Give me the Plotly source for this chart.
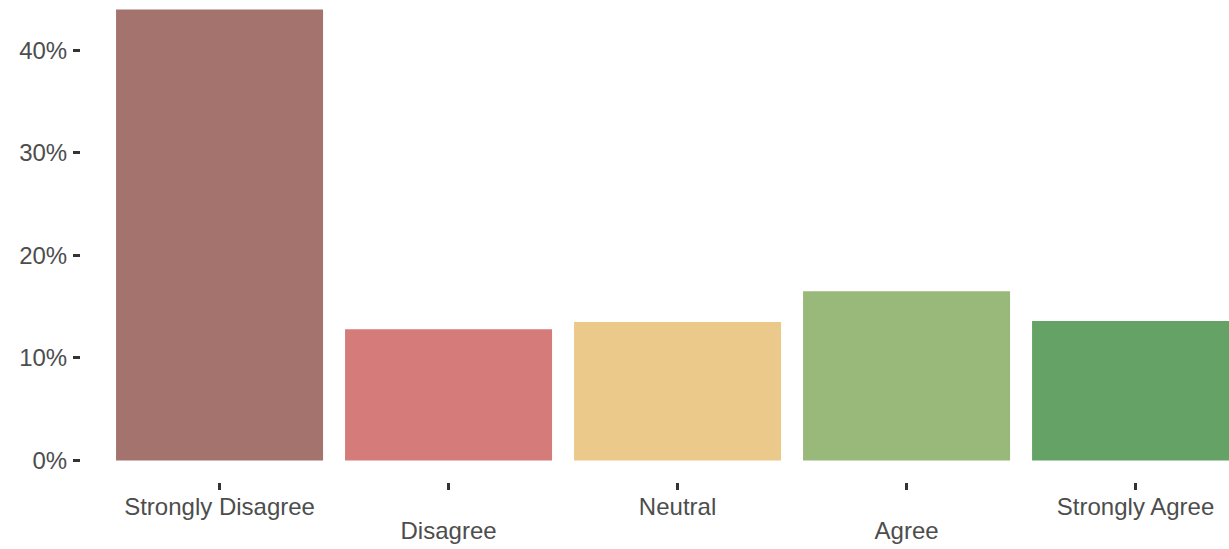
import plotly.graph_objects as go

categories = ["Strongly Disagree", "Disagree", "Neutral", "Agree", "Strongly Agree"]
values = [44.0, 12.8, 13.5, 16.5, 13.6]
colors = ["#a5736e", "#d57b7a", "#ebc98a", "#98b97a", "#65a265"]
y_ticks = [0, 10, 20, 30, 40]
y_tick_labels = ["0%", "10%", "20%", "30%", "40%"]

upper_vals = [c for i, c in enumerate(categories) if i % 2 == 0]
lower_vals = [c for i, c in enumerate(categories) if i % 2 == 1]

font_family = "Liberation Sans, Arial, Helvetica, sans-serif"
font_size = 24
txt_col = "#4d4d4d"
tfont = dict(family=font_family, size=font_size, color=txt_col)

fig = go.Figure()
fig.add_trace(go.Bar(x=categories, y=values, marker=dict(color=colors, line=dict(width=0)),
                     showlegend=False, hoverinfo="x+y"))
for ax in ["x2", "x3"]:
    fig.add_trace(go.Scatter(x=categories, y=[None]*len(categories), xaxis=ax, showlegend=False,
                             mode="markers", hoverinfo="skip"))

xr = [-0.605, 4.408]
common_x = dict(type="category", categoryarray=categories, categoryorder="array",
                range=xr, showgrid=False, zeroline=False, showline=False, automargin=False,
                tickfont=tfont)
fig.update_layout(
    width=1229, height=549,
    margin=dict(l=81, r=0, t=0, b=67),
    plot_bgcolor="white", paper_bgcolor="white",
    bargap=0.096,
    font=tfont,
    xaxis=dict(**common_x, tickvals=categories, ticktext=[""]*len(categories),
               ticks="outside", ticklen=7, tickwidth=2.5, tickcolor="#333333"),
    xaxis2=dict(**common_x, overlaying="x", side="bottom", tickvals=lower_vals, ticktext=lower_vals,
                ticks="", ticklabelstandoff=32),
    xaxis3=dict(**common_x, overlaying="x", side="bottom", tickvals=upper_vals, ticktext=upper_vals,
                ticks="", ticklabelstandoff=8),
    yaxis=dict(range=[-2.1, 44.92], tickvals=y_ticks, ticktext=y_tick_labels,
               ticks="outside", ticklen=7, tickwidth=2.5, tickcolor="#333333",
               showgrid=False, zeroline=False, showline=False, automargin=False,
               ticklabelstandoff=1, tickfont=tfont),
)

fig.write_html("out.html", config={"displayModeBar": False},
               post_script="document.body.style.margin='0';")
